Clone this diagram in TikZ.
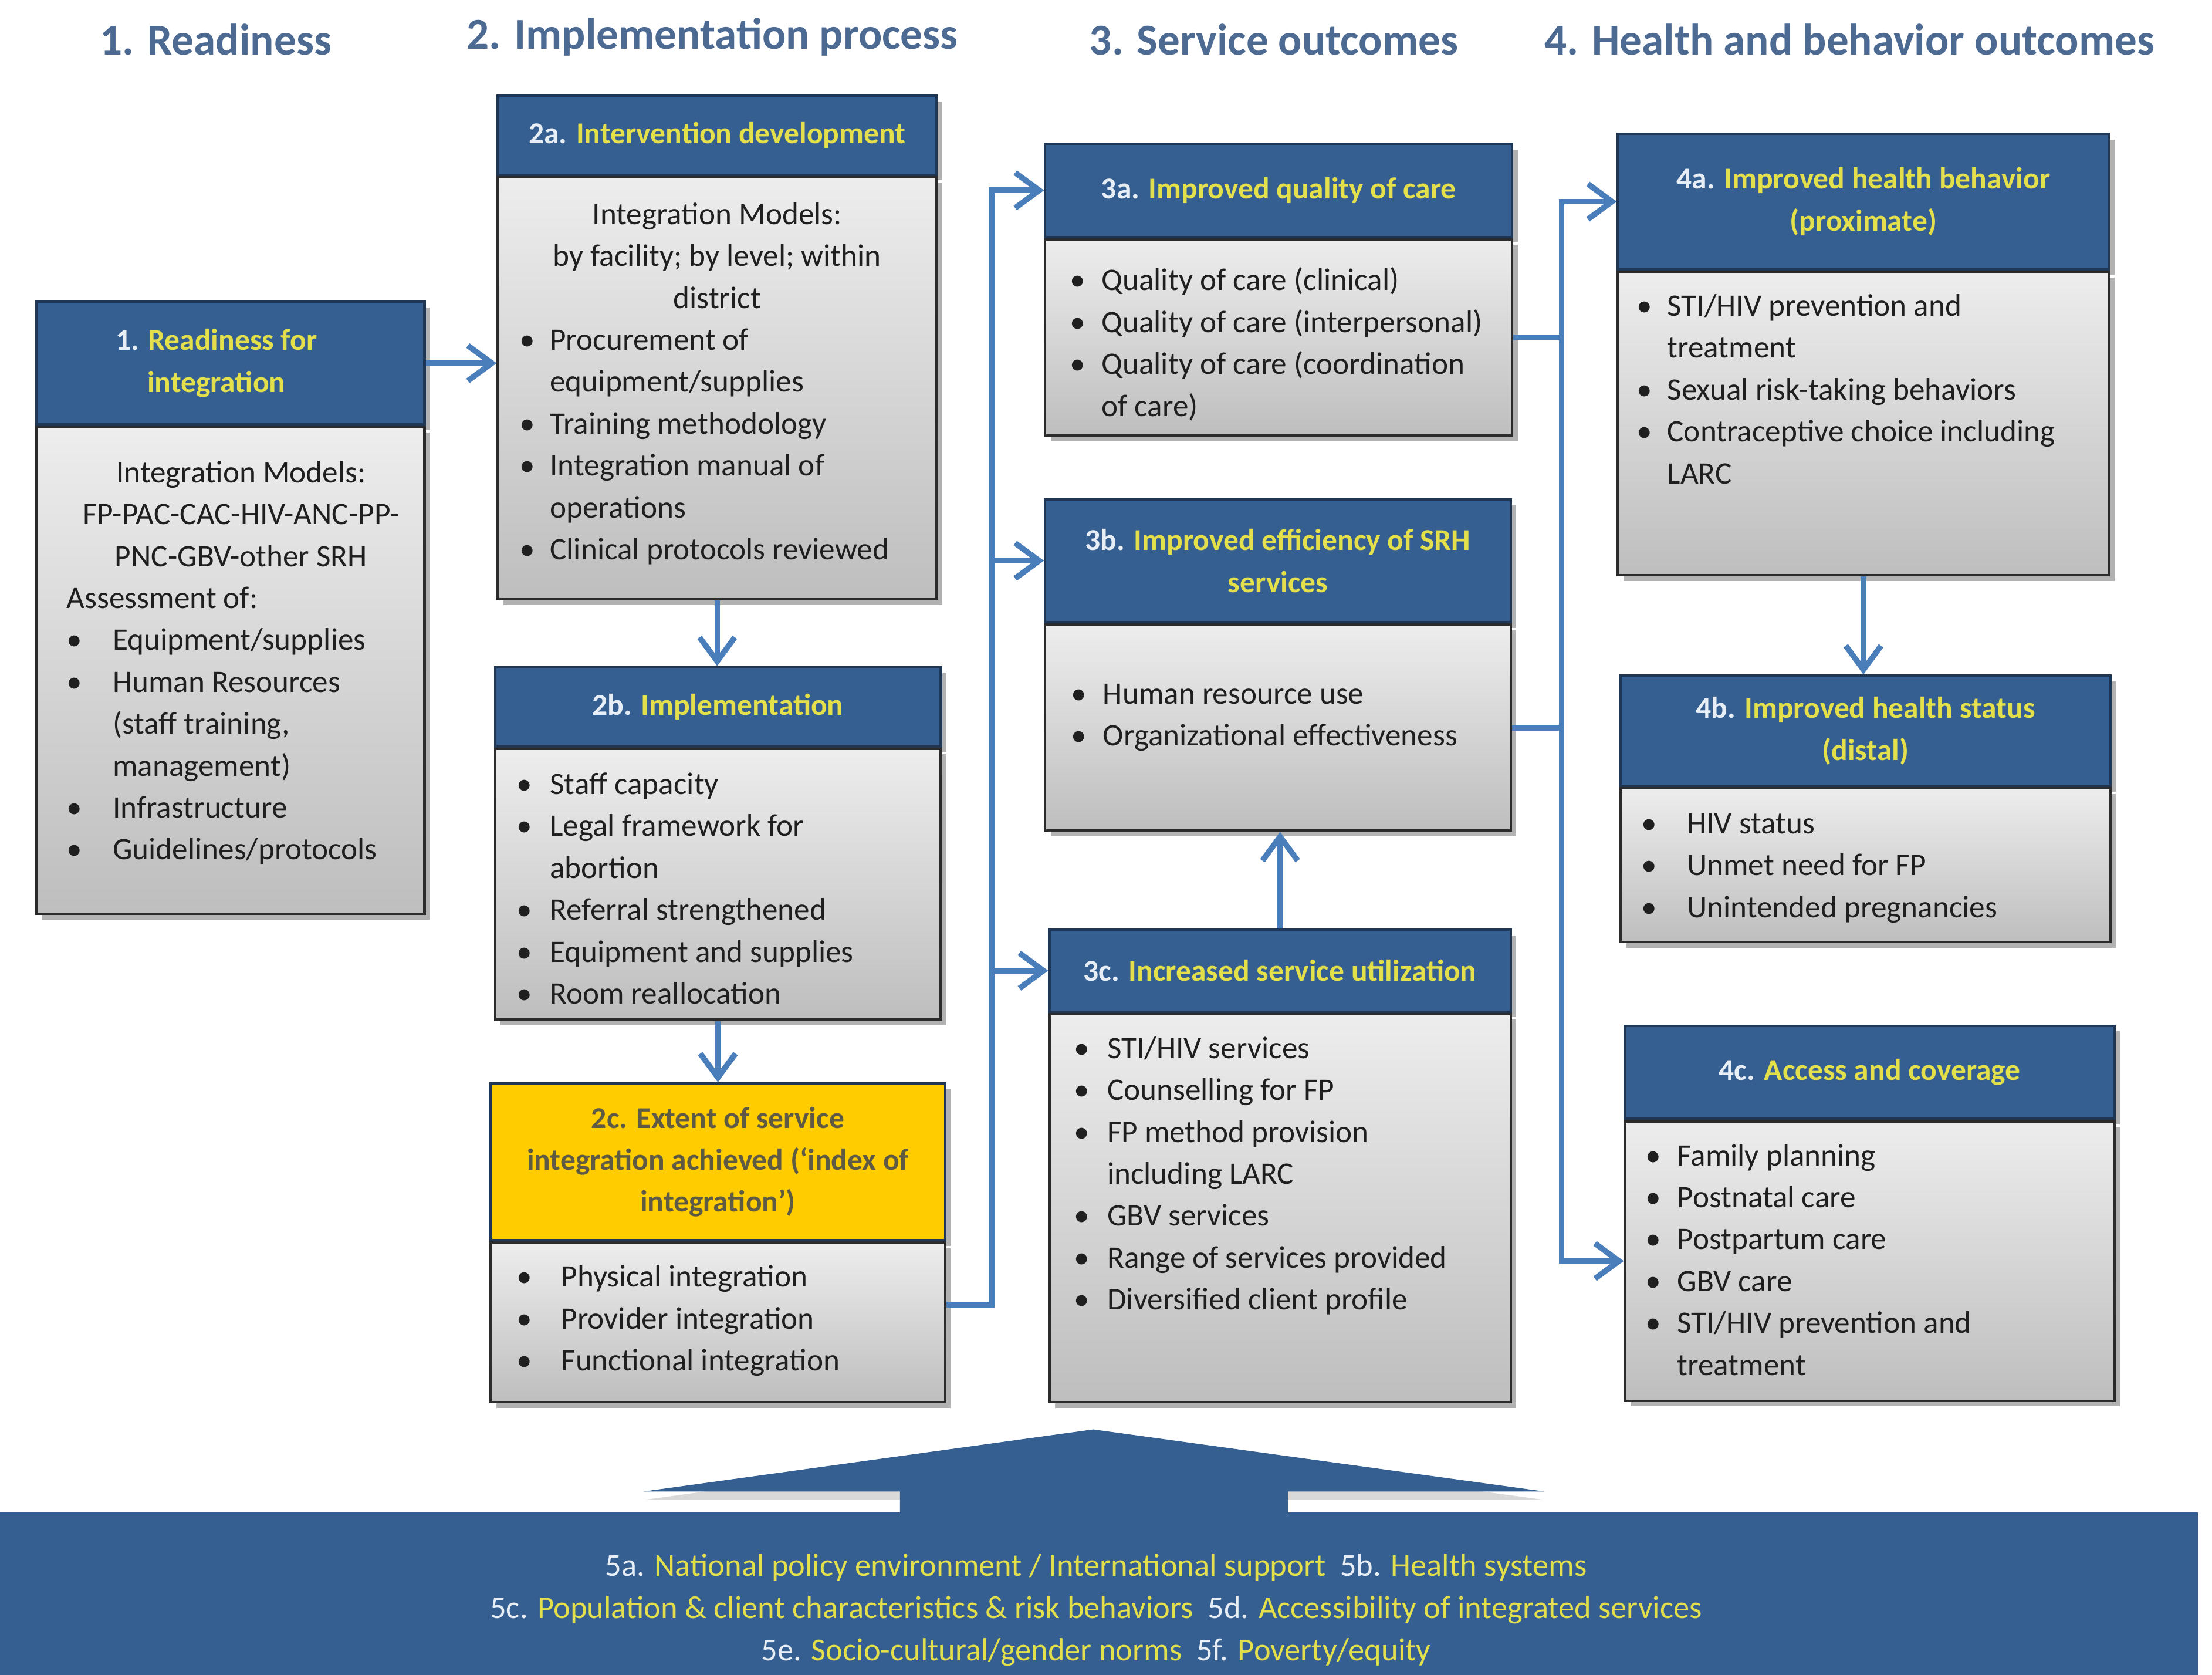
\documentclass[tikz,border=0pt]{standalone}
\usepackage{fontspec}
\setmainfont{Carlito}
\usetikzlibrary{positioning,arrows.meta,shadows}

\definecolor{hblue}{HTML}{365F91}
\definecolor{hdrline}{HTML}{1F3655}
\definecolor{hyellow}{HTML}{E4E04C}
\definecolor{numwhite}{HTML}{E8EEF6}
\definecolor{gold}{HTML}{FFCC00}
\definecolor{goldtext}{HTML}{5E5A44}
\definecolor{ablue}{HTML}{4A7EBB}
\definecolor{tblue}{HTML}{4C6A92}
\definecolor{boxline}{HTML}{2B2B2B}
\definecolor{bodytop}{HTML}{EDEDED}
\definecolor{bodybot}{HTML}{BEBEBE}

\newlength{\bulgap}
\newcommand{\nb}[1]{\textcolor{numwhite}{#1}}
\newcommand{\itm}[1]{\par\noindent\hangindent=\bulgap\hangafter=1\makebox[\bulgap][l]{\textbullet}\begingroup\let\\\newline#1\endgroup}
% width, height, top pad, left pad, bullet gap, text
\newcommand{\boxtext}[6]{\parbox[t][#2][t]{#1}{\raggedright\leftskip=#4\relax\setlength{\bulgap}{#5}\vspace*{#3}#6\par}}

\tikzset{
	boxshadow/.style={drop shadow={shadow xshift=0.8mm, shadow yshift=-0.8mm, opacity=0.3, fill=black}},
	hdr/.style={draw=hdrline, line width=1pt, fill=hblue, text=hyellow, anchor=north west, align=center, inner sep=1pt, font=\fontsize{12.2}{16.9}\selectfont\bfseries, boxshadow},
	bodybox/.style={draw=boxline, line width=1pt, top color=bodytop, bottom color=bodybot, inner sep=0pt, text=black!88, font=\fontsize{12.6}{16.9}\selectfont, boxshadow},
	coltitle/.style={text=tblue, font=\fontsize{17.8}{20}\selectfont\bfseries},
	foottxt/.style={text=hyellow, align=center, font=\fontsize{12.9}{17}\selectfont},
	wire/.style={draw=ablue, line width=0.8mm},
	conn/.style={wire, -{Straight Barb[length=3.4mm,width=5mm]}},
}

\begin{document}
\begin{tikzpicture}[x=0.2mm,y=-0.2mm]
\useasboundingbox (0,0) rectangle (1568,1187);

% column titles
\node[coltitle] (t1) at (153,28) {1. Readiness};
\node[coltitle] (t2) at (505,26) {2. Implementation process};
\node[coltitle] (t3) at (903,28) {3. Service outcomes};
\node[coltitle] (t4) at (1311,28) {4. Health and behavior outcomes};

% 1
\node[hdr, minimum width=55mm, minimum height=17.4mm] (h1) at (25,213) {\nb{1.} Readiness for\hspace*{4mm}\\integration\hspace*{4mm}};
\node[bodybox, below=0pt of h1] (b1) {\boxtext{55mm}{69mm}{4.8mm}{4.3mm}{6.5mm}{%
{\centering\leftskip=3mm plus 1fil Integration Models:\\FP-PAC-CAC-HIV-ANC-PP-\\PNC-GBV-other SRH\par}
\noindent Assessment of:
\itm{Equipment/supplies}
\itm{Human Resources\\(staff training,\\management)}
\itm{Infrastructure}
\itm{Guidelines/protocols}}};

% 2a - 2c
\node[hdr, minimum width=62.2mm, minimum height=11.2mm] (h2a) at (352,67) {\nb{2a.} Intervention development};
\node[bodybox, below=0pt of h2a] (b2a) {\boxtext{62.2mm}{59.8mm}{3.6mm}{3.1mm}{4.3mm}{%
{\centering Integration Models:\\by facility; by level; within\\district\par}
\itm{Procurement of\\equipment/supplies}
\itm{Training methodology}
\itm{Integration manual of\\operations}
\itm{Clinical protocols reviewed}}};

\node[hdr, minimum width=63.2mm, minimum height=11.2mm] (h2b) at (350,472) {\nb{2b.} Implementation};
\node[bodybox, below=0pt of h2b] (b2b) {\boxtext{63.2mm}{38.4mm}{3.4mm}{3.1mm}{4.7mm}{%
\itm{Staff capacity}
\itm{Legal framework for\\abortion}
\itm{Referral strengthened}
\itm{Equipment and supplies}
\itm{Room reallocation}}};

\node[hdr, fill=gold, text=goldtext, minimum width=64.4mm, minimum height=22.2mm] (h2c) at (347,767) {2c. Extent of service\\integration achieved (‘index of\\integration’)};
\node[bodybox, below=0pt of h2c] (b2c) {\boxtext{64.4mm}{22.6mm}{3.2mm}{3.7mm}{6.3mm}{%
\itm{Physical integration}
\itm{Provider integration}
\itm{Functional integration}}};

% 3a - 3c
\node[hdr, minimum width=66.2mm, minimum height=13.2mm] (h3a) at (740,101) {\nb{3a.} Improved quality of care};
\node[bodybox, below=0pt of h3a] (b3a) {\boxtext{66.2mm}{27.8mm}{4mm}{3.5mm}{4.5mm}{%
\itm{Quality of care (clinical)}
\itm{Quality of care (interpersonal)}
\itm{Quality of care (coordination\\of care)}}};

\node[hdr, minimum width=66mm, minimum height=17.4mm] (h3b) at (740,353) {\nb{3b.} Improved efficiency of SRH\\services};
\node[bodybox, below=0pt of h3b] (b3b) {\boxtext{66mm}{29.2mm}{8.4mm}{3.7mm}{4.5mm}{%
\itm{Human resource use}
\itm{Organizational effectiveness}}};

\node[hdr, minimum width=65.4mm, minimum height=11.6mm] (h3c) at (743,658) {\nb{3c.} Increased service utilization};
\node[bodybox, below=0pt of h3c] (b3c) {\boxtext{65.4mm}{55mm}{3.2mm}{3.5mm}{4.7mm}{%
\itm{STI/HIV services}
\itm{Counselling for FP}
\itm{FP method provision\\including LARC}
\itm{GBV services}
\itm{Range of services provided}
\itm{Diversified client profile}}};

% 4a - 4c
\node[hdr, minimum width=69.6mm, minimum height=19.2mm] (h4a) at (1146,94) {\nb{4a.} Improved health behavior\\(proximate)};
\node[bodybox, below=0pt of h4a] (b4a) {\boxtext{69.6mm}{43mm}{3.2mm}{2.7mm}{4.3mm}{%
\itm{STI/HIV prevention and\\treatment}
\itm{Sexual risk-taking behaviors}
\itm{Contraceptive choice including\\LARC}}};

\node[hdr, minimum width=69.4mm, minimum height=15.6mm] (h4b) at (1148,478) {\nb{4b.} Improved health status\\(distal)};
\node[bodybox, below=0pt of h4b] (b4b) {\boxtext{69.4mm}{21.8mm}{3.6mm}{2.9mm}{6.5mm}{%
\itm{HIV status}
\itm{Unmet need for FP}
\itm{Unintended pregnancies}}};

\node[hdr, minimum width=69.4mm, minimum height=13.2mm] (h4c) at (1151,726) {\nb{4c.} Access and coverage};
\node[bodybox, below=0pt of h4c] (b4c) {\boxtext{69.4mm}{39.6mm}{3.2mm}{2.9mm}{4.5mm}{%
\itm{Family planning}
\itm{Postnatal care}
\itm{Postpartum care}
\itm{GBV care}
\itm{STI/HIV prevention and\\treatment}}};

% connectors
\coordinate (tr3) at (703,0);
\coordinate (tr4) at (1107,0);
\draw[conn] (h1.east) -- (h1.east -| b2a.west);
\draw[conn] (b2a.south) -- (b2a.south |- h2b.north);
\draw[conn] (b2b.south) -- (b2b.south |- h2c.north);
\draw[conn] ([yshift=2.5mm]b2c.east) -| (tr3 |- h3c.west) |- (h3a.west);
\draw[conn] (tr3 |- h3b.west) -- (h3b.west);
\draw[conn] (tr3 |- h3c.west) -- (h3c.west);
\draw[conn] (h3c.north) -- (h3c.north |- b3b.south);
\draw[wire] (b3a.east) -- (b3a.east -| tr4);
\draw[conn] (b3b.east) -| (tr4 |- b4c.west) -- (b4c.west);
\draw[conn] (tr4 |- b3b.east) |- (h4a.west);
\draw[conn] (b4a.south) -- (b4a.south |- h4b.north);

% context factors
\fill[hblue, drop shadow={shadow xshift=0mm, shadow yshift=-1.2mm, opacity=0.3}] (638,1075) -- (638,1057) -- (456,1057) -- (775,1013) -- (1095,1057) -- (913,1057) -- (913,1075) -- cycle;
\fill[hblue] (0,1072) rectangle (1558,1187);
\node[foottxt] (f5) at (777,1141) {\nb{5a.} National policy environment / International support\ \ \nb{5b.} Health systems\\
\nb{5c.} Population \& client characteristics \& risk behaviors\ \ \nb{5d.} Accessibility of integrated services\\
\nb{5e.} Socio-cultural/gender norms\ \ \nb{5f.} Poverty/equity};

\end{tikzpicture}
\end{document}
